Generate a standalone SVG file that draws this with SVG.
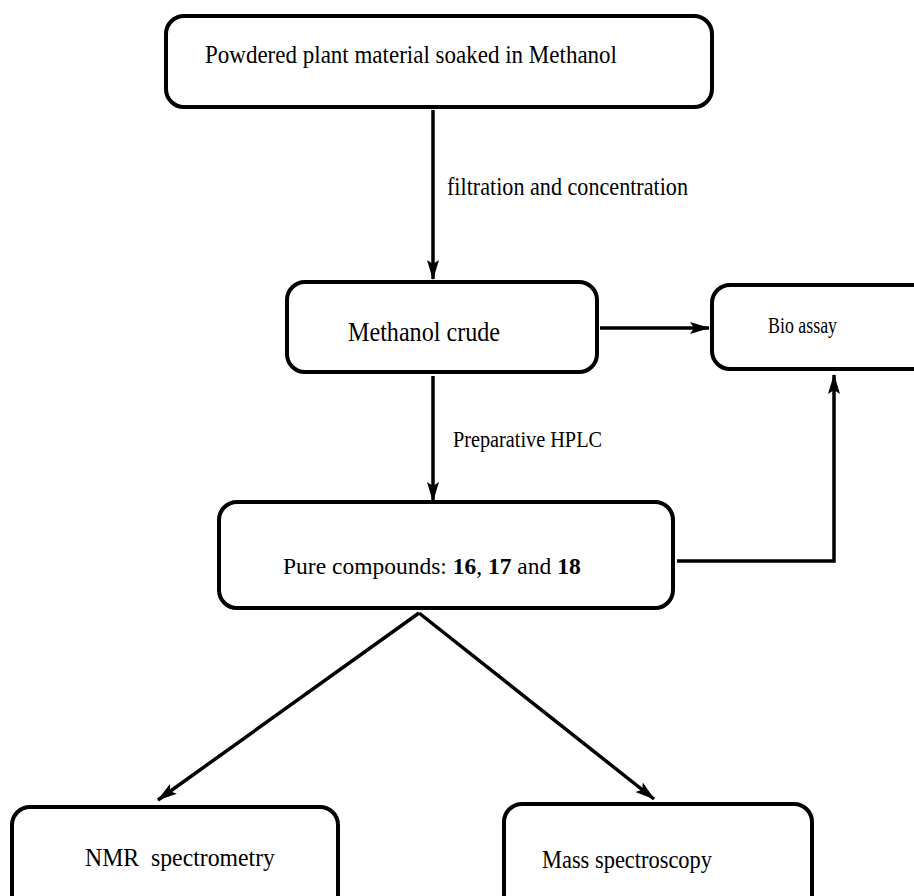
<svg xmlns="http://www.w3.org/2000/svg" width="914" height="896" viewBox="0 0 914 896">
<style>
.box{fill:#fff;stroke:#000;stroke-width:4}
.ln{fill:none;stroke:#000;stroke-width:3.5}
text{font-family:"Liberation Serif","Times New Roman",serif;fill:#000}
</style>
<defs>
<marker id="ah" markerUnits="userSpaceOnUse" markerWidth="22" markerHeight="14" refX="19" refY="6" orient="auto" viewBox="0 0 22 14">
<path d="M0,0 L20,6 L0,12 L4,6 z" fill="#000"/>
</marker>
</defs>
<rect width="914" height="896" fill="#fff"/>
<g id="connectors">
<line class="ln" x1="433" y1="110" x2="433" y2="279" marker-end="url(#ah)"/>
<line class="ln" x1="433" y1="376" x2="433" y2="501" marker-end="url(#ah)"/>
<line class="ln" x1="600" y1="328" x2="709" y2="328" marker-end="url(#ah)"/>
<polyline class="ln" points="677,561 834,561 834,375" marker-end="url(#ah)"/>
<line class="ln" x1="419" y1="613" x2="158" y2="800" marker-end="url(#ah)"/>
<line class="ln" x1="419" y1="613" x2="654" y2="799" marker-end="url(#ah)"/>
<text x="447" y="195" font-size="25" textLength="241" lengthAdjust="spacingAndGlyphs">filtration and concentration</text>
<text x="453" y="447" font-size="24" textLength="149" lengthAdjust="spacingAndGlyphs">Preparative HPLC</text>
</g>
<g id="n-plant">
<rect class="box" x="166" y="16" width="546" height="91" rx="18"/>
<text x="205" y="63" font-size="25" textLength="412" lengthAdjust="spacingAndGlyphs">Powdered plant material soaked in Methanol</text>
</g>
<g id="n-crude">
<rect class="box" x="287" y="282" width="310" height="90" rx="18"/>
<text x="348" y="341" font-size="27" textLength="152" lengthAdjust="spacingAndGlyphs">Methanol crude</text>
</g>
<g id="n-bio">
<rect class="box" x="712" y="285" width="230" height="84" rx="18"/>
<text x="768" y="333" font-size="24" textLength="69" lengthAdjust="spacingAndGlyphs">Bio assay</text>
</g>
<g id="n-pure">
<rect class="box" x="219" y="502" width="454" height="106" rx="18"/>
<text x="283" y="574" font-size="23.5">Pure compounds: <tspan font-weight="bold">16</tspan>, <tspan font-weight="bold">17</tspan> and <tspan font-weight="bold">18</tspan></text>
</g>
<g id="n-nmr">
<rect class="box" x="12" y="807" width="326" height="110" rx="18"/>
<text x="85" y="866" font-size="26" textLength="190" lengthAdjust="spacingAndGlyphs" xml:space="preserve">NMR  spectrometry</text>
</g>
<g id="n-mass">
<rect class="box" x="504" y="804" width="308" height="110" rx="18"/>
<text x="542" y="868" font-size="26" textLength="170" lengthAdjust="spacingAndGlyphs">Mass spectroscopy</text>
</g>
</svg>
